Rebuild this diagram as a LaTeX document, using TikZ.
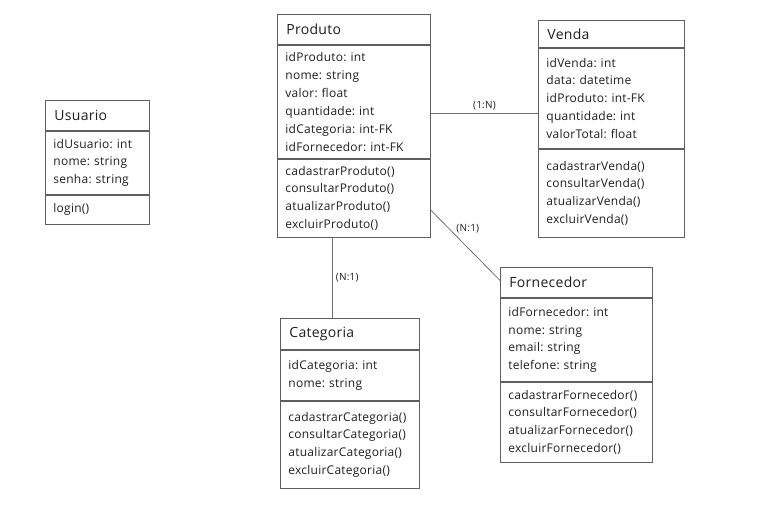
\documentclass[tikz,border=0pt]{standalone}
\usepackage{fontspec}
\setmainfont{Open Sans}[LetterSpace=2]
\frenchspacing
\usepackage{tikz}
\usetikzlibrary{positioning}
\definecolor{boxgray}{HTML}{5F5F5F}
\definecolor{linegray}{HTML}{707070}
\definecolor{ink}{HTML}{1E1E1E}
\tikzset{
    classtitle/.style = {rectangle, draw=boxgray, line width=0.9pt, anchor=north west,
                         inner xsep=9pt, inner ysep=0pt, align=left, text=ink,
                         font=\fontsize{14}{16}\selectfont},
    classbody/.style = {rectangle, draw=boxgray, line width=0.9pt,
                        inner xsep=8pt, inner ysep=0pt, align=left, text=ink,
                        font=\fontsize{12}{17.9}\selectfont},
    assoc/.style = {draw=linegray, line width=0.8pt},
    mult/.style = {text=ink, inner sep=1pt, font=\fontsize{10}{11}\selectfont}
    }
\begin{document}
\begin{tikzpicture}[x=1pt, y=-1pt]
    \useasboundingbox (0,0) rectangle (763,508);

    % Usuario
    \node[classtitle, text width=86pt, minimum height=30pt] (usrTitle) at (45,100) {Usuario};
    \node[classbody, text width=88pt, minimum height=63pt, below=0pt of usrTitle] (usrAttr)
        {idUsuario: int\\ nome: string\\ senha: string};
    \node[classbody, text width=88pt, minimum height=29pt, below=0pt of usrAttr] (usrMeth)
        {login()};

    % Produto
    \node[classtitle, text width=135pt, minimum height=30pt] (prodTitle) at (277,14) {Produto};
    \node[classbody, text width=137pt, minimum height=113pt, below=0pt of prodTitle] (prodAttr)
        {idProduto: int\\ nome: string\\ valor: float\\ quantidade: int\\
         idCategoria: int-FK\\ idFornecedor: int-FK};
    \node[classbody, text width=137pt, minimum height=78pt, below=0pt of prodAttr] (prodMeth)
        {cadastrarProduto()\\ consultarProduto()\\ atualizarProduto()\\ excluirProduto()};

    % Venda
    \node[classtitle, text width=128pt, minimum height=27pt] (vendaTitle) at (538,20) {Venda};
    \node[classbody, text width=130pt, minimum height=100pt, below=0pt of vendaTitle] (vendaAttr)
        {idVenda: int\\ data: datetime\\ idProduto: int-FK\\ quantidade: int\\ valorTotal: float};
    \node[classbody, text width=130pt, minimum height=88pt, below=0pt of vendaAttr] (vendaMeth)
        {cadastrarVenda()\\ consultarVenda()\\ atualizarVenda()\\ excluirVenda()};

    % Categoria
    \node[classtitle, text width=121pt, minimum height=31pt] (catTitle) at (280,318) {Categoria};
    \node[classbody, text width=123pt, minimum height=50pt, below=0pt of catTitle] (catAttr)
        {idCategoria: int\\ nome: string};
    \node[classbody, text width=123pt, minimum height=87pt, below=0pt of catAttr] (catMeth)
        {cadastrarCategoria()\\ consultarCategoria()\\ atualizarCategoria()\\ excluirCategoria()};

    % Fornecedor
    \node[classtitle, text width=134pt, minimum height=30pt] (fornTitle) at (500,267) {Fornecedor};
    \node[classbody, text width=136pt, minimum height=83pt, below=0pt of fornTitle] (fornAttr)
        {idFornecedor: int\\ nome: string\\ email: string\\ telefone: string};
    \node[classbody, text width=136pt, minimum height=80pt, below=0pt of fornAttr] (fornMeth)
        {cadastrarFornecedor()\\ consultarFornecedor()\\ atualizarFornecedor()\\ excluirFornecedor()};

    % associations
    \draw[assoc] ([yshift=-11.5pt]prodAttr.east) -- node[mult, above=2pt] {(1:N)}
        ([yshift=-15pt]vendaAttr.west);
    \draw[assoc] ([xshift=-21.5pt]prodMeth.south) -- node[mult, right=2pt] {(N:1)}
        ([xshift=-21.5pt]prodMeth.south |- catTitle.north);
    \draw[assoc] ([yshift=-12pt]prodMeth.east) -- node[mult, pos=0.35, above right=0pt] {(N:1)}
        ([yshift=2pt]fornTitle.west);
\end{tikzpicture}
\end{document}
